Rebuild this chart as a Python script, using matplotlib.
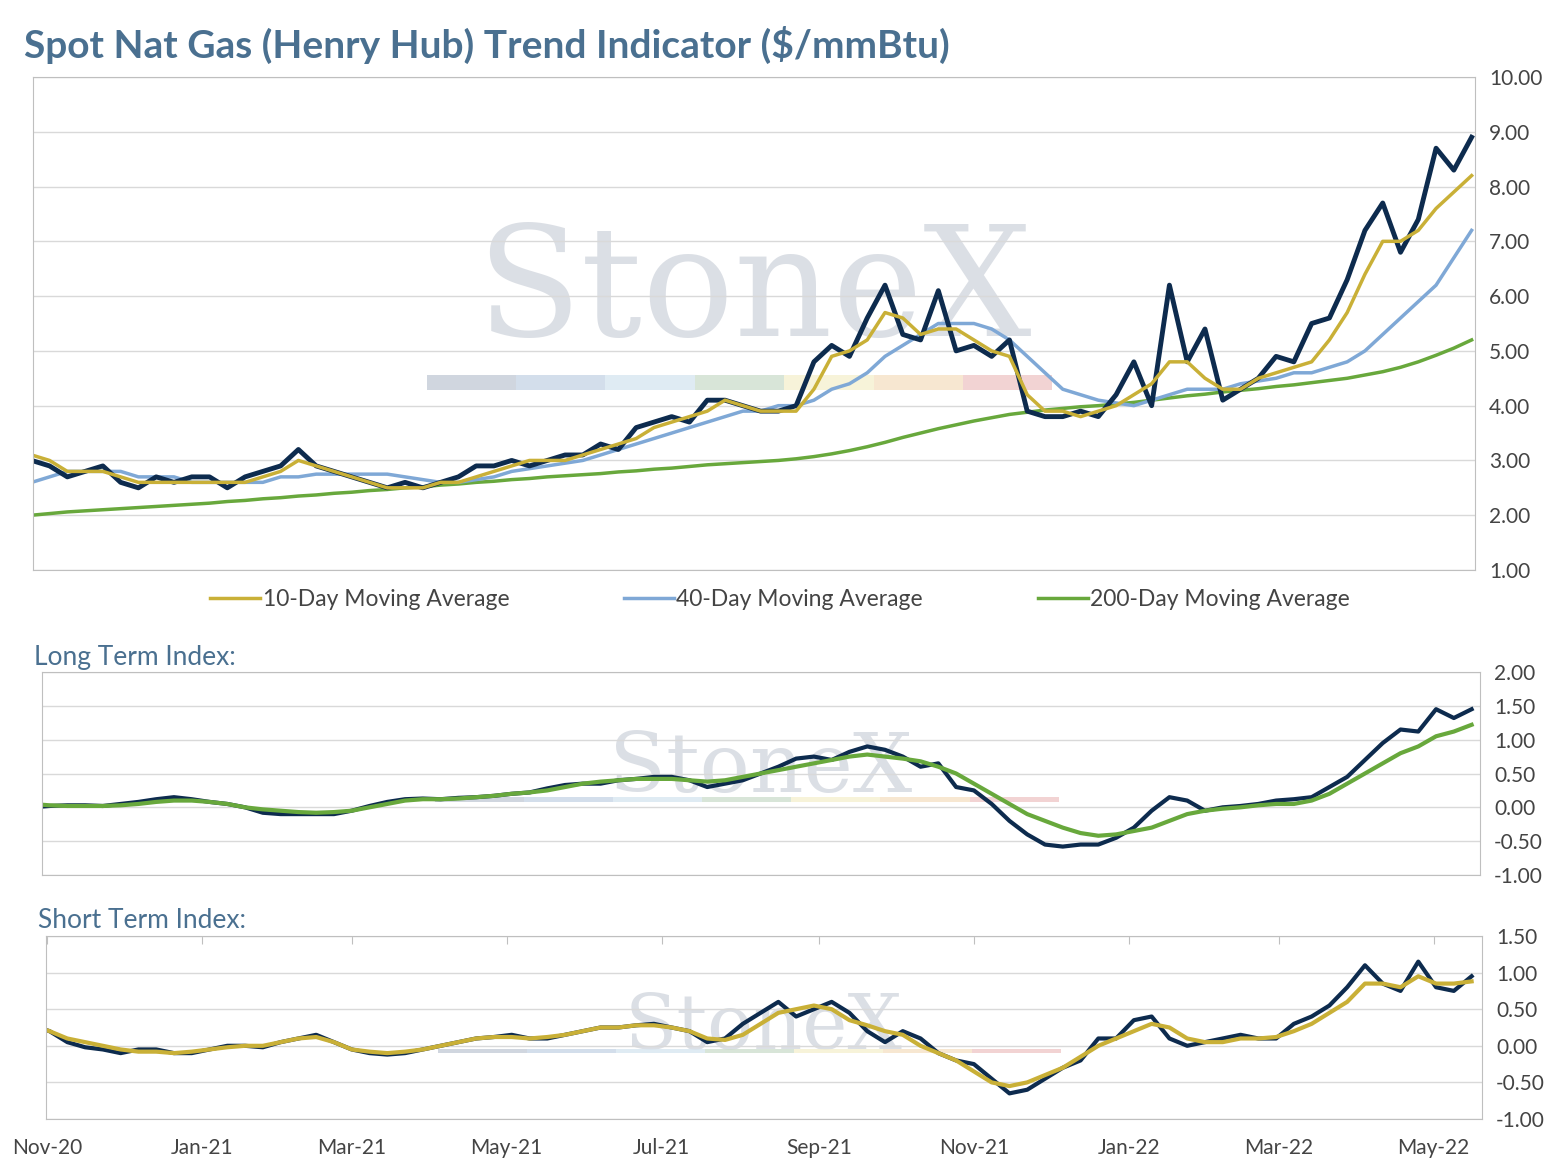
import numpy as np
import pandas as pd
import matplotlib
matplotlib.use("Agg")
import matplotlib.pyplot as plt
import matplotlib.dates as mdates
from matplotlib.patches import Rectangle

plt.rcParams['font.family'] = ['Lato', 'DejaVu Sans']

# weekly observations starting late Oct 2020
dates = pd.date_range('2020-10-26', periods=82, freq='7D')

spot = [3.0, 2.9, 2.7, 2.8, 2.9, 2.6, 2.5, 2.7, 2.6, 2.7, 2.7, 2.5,
        2.7, 2.8, 2.9, 3.2, 2.9, 2.8, 2.7, 2.6, 2.5, 2.6, 2.5, 2.6,
        2.7, 2.9, 2.9, 3.0, 2.9, 3.0, 3.1, 3.1, 3.3, 3.2, 3.6, 3.7,
        3.8, 3.7, 4.1, 4.1, 4.0, 3.9, 3.9, 4.0, 4.8, 5.1, 4.9, 5.6,
        6.2, 5.3, 5.2, 6.1, 5.0, 5.1, 4.9, 5.2, 3.9, 3.8, 3.8, 3.9,
        3.8, 4.2, 4.8, 4.0, 6.2, 4.8, 5.4, 4.1, 4.3, 4.5, 4.9, 4.8,
        5.5, 5.6, 6.3, 7.2, 7.7, 6.8, 7.4, 8.7, 8.3, 8.9]
ma10 = [3.1, 3.0, 2.8, 2.8, 2.8, 2.7, 2.6, 2.6, 2.6, 2.6, 2.6, 2.6,
        2.6, 2.7, 2.8, 3.0, 2.9, 2.8, 2.7, 2.6, 2.5, 2.5, 2.5, 2.6,
        2.6, 2.7, 2.8, 2.9, 3.0, 3.0, 3.0, 3.1, 3.2, 3.3, 3.4, 3.6,
        3.7, 3.8, 3.9, 4.1, 4.0, 3.9, 3.9, 3.9, 4.3, 4.9, 5.0, 5.2,
        5.7, 5.6, 5.3, 5.4, 5.4, 5.2, 5.0, 4.9, 4.2, 3.9, 3.9, 3.8,
        3.9, 4.0, 4.2, 4.4, 4.8, 4.8, 4.5, 4.3, 4.3, 4.5, 4.6, 4.7,
        4.8, 5.2, 5.7, 6.4, 7.0, 7.0, 7.2, 7.6, 7.9, 8.2]
ma40 = [2.6, 2.7, 2.8, 2.8, 2.8, 2.8, 2.7, 2.7, 2.7, 2.6, 2.6, 2.6,
        2.6, 2.6, 2.7, 2.7, 2.75, 2.75, 2.75, 2.75, 2.75, 2.7, 2.65, 2.6,
        2.6, 2.65, 2.7, 2.8, 2.85, 2.9, 2.95, 3.0, 3.1, 3.2, 3.3, 3.4,
        3.5, 3.6, 3.7, 3.8, 3.9, 3.9, 4.0, 4.0, 4.1, 4.3, 4.4, 4.6,
        4.9, 5.1, 5.3, 5.5, 5.5, 5.5, 5.4, 5.2, 4.9, 4.6, 4.3, 4.2,
        4.1, 4.05, 4.0, 4.1, 4.2, 4.3, 4.3, 4.3, 4.4, 4.45, 4.5, 4.6,
        4.6, 4.7, 4.8, 5.0, 5.3, 5.6, 5.9, 6.2, 6.7, 7.2]
ma200 = [2.0, 2.03, 2.06, 2.08, 2.1, 2.12, 2.14, 2.16, 2.18, 2.2, 2.22, 2.25,
         2.27, 2.3, 2.32, 2.35, 2.37, 2.4, 2.42, 2.45, 2.47, 2.5, 2.52, 2.55,
         2.57, 2.6, 2.62, 2.65, 2.67, 2.7, 2.72, 2.74, 2.76, 2.79, 2.81, 2.84,
         2.86, 2.89, 2.92, 2.94, 2.96, 2.98, 3.0, 3.03, 3.07, 3.12, 3.18, 3.25,
         3.33, 3.42, 3.5, 3.58, 3.65, 3.72, 3.78, 3.84, 3.88, 3.92, 3.95, 3.98,
         4.0, 4.03, 4.06, 4.1, 4.14, 4.18, 4.21, 4.25, 4.28, 4.31, 4.35, 4.38,
         4.42, 4.46, 4.5, 4.56, 4.62, 4.7, 4.8, 4.92, 5.05, 5.2]

lt_index = [0.0, 0.02, 0.03, 0.03, 0.02, 0.05, 0.08, 0.12, 0.15, 0.12, 0.08, 0.05,
            0.0, -0.08, -0.1, -0.1, -0.1, -0.1, -0.05, 0.02, 0.08, 0.12, 0.13, 0.12,
            0.14, 0.15, 0.17, 0.2, 0.22, 0.28, 0.33, 0.35, 0.35, 0.4, 0.42, 0.45,
            0.45, 0.4, 0.3, 0.35, 0.4, 0.5, 0.6, 0.72, 0.75, 0.7, 0.82, 0.9,
            0.85, 0.75, 0.6, 0.65, 0.3, 0.25, 0.05, -0.2, -0.4, -0.55, -0.58, -0.55,
            -0.55, -0.45, -0.3, -0.05, 0.15, 0.1, -0.05, 0.0, 0.02, 0.05, 0.1, 0.12,
            0.15, 0.3, 0.45, 0.7, 0.95, 1.15, 1.12, 1.45, 1.32, 1.45]
lt_signal = [0.05, 0.03, 0.02, 0.02, 0.02, 0.03, 0.05, 0.08, 0.1, 0.1, 0.08, 0.05,
             0.0, -0.03, -0.05, -0.07, -0.08, -0.07, -0.05, 0.0, 0.05, 0.1, 0.12, 0.12,
             0.13, 0.15, 0.17, 0.2, 0.22, 0.25, 0.3, 0.35, 0.38, 0.4, 0.42, 0.42,
             0.42, 0.4, 0.38, 0.4, 0.45, 0.5, 0.55, 0.6, 0.65, 0.7, 0.75, 0.78,
             0.75, 0.72, 0.68, 0.6, 0.5, 0.35, 0.2, 0.05, -0.1, -0.2, -0.3, -0.38,
             -0.42, -0.4, -0.35, -0.3, -0.2, -0.1, -0.05, -0.02, 0.0, 0.03, 0.05, 0.05,
             0.1, 0.2, 0.35, 0.5, 0.65, 0.8, 0.9, 1.05, 1.12, 1.22]

st_index = [0.28, 0.2, 0.05, -0.02, -0.05, -0.1, -0.05, -0.05, -0.1, -0.1, -0.05, 0.0,
            0.0, -0.02, 0.05, 0.1, 0.15, 0.05, -0.05, -0.1, -0.12, -0.1, -0.05, 0.0,
            0.05, 0.1, 0.12, 0.15, 0.1, 0.1, 0.15, 0.2, 0.25, 0.25, 0.28, 0.3,
            0.25, 0.2, 0.05, 0.1, 0.3, 0.45, 0.6, 0.4, 0.5, 0.6, 0.45, 0.2,
            0.05, 0.2, 0.1, -0.1, -0.2, -0.25, -0.45, -0.65, -0.6, -0.45, -0.3, -0.2,
            0.1, 0.1, 0.35, 0.4, 0.1, 0.0, 0.05, 0.1, 0.15, 0.1, 0.1, 0.3,
            0.4, 0.55, 0.8, 1.1, 0.85, 0.75, 1.15, 0.8, 0.75, 0.95]
st_signal = [0.28, 0.2, 0.1, 0.05, 0.0, -0.05, -0.08, -0.08, -0.1, -0.08, -0.05, -0.02,
             0.0, 0.0, 0.05, 0.1, 0.12, 0.05, -0.05, -0.08, -0.1, -0.08, -0.05, 0.0,
             0.05, 0.1, 0.12, 0.12, 0.1, 0.12, 0.15, 0.2, 0.25, 0.25, 0.28, 0.28,
             0.25, 0.2, 0.1, 0.08, 0.15, 0.3, 0.45, 0.5, 0.55, 0.5, 0.35, 0.28,
             0.2, 0.15, 0.0, -0.1, -0.2, -0.35, -0.5, -0.55, -0.5, -0.4, -0.3, -0.15,
             0.0, 0.1, 0.2, 0.3, 0.25, 0.1, 0.05, 0.05, 0.1, 0.1, 0.12, 0.2,
             0.3, 0.45, 0.6, 0.85, 0.85, 0.8, 0.95, 0.85, 0.85, 0.88]

NAVY = '#0d2b4e'
GOLD = '#c9b037'
BLUE = '#7fa8d6'
GREEN = '#68a83c'
TITLE = '#4a7090'
TXT = '#444444'

W, H = 1565, 1166
fig = plt.figure(figsize=(W / 100, H / 100), dpi=100)

def px_axes(l, t, r, b):
    return fig.add_axes([l / W, 1 - b / H, (r - l) / W, (b - t) / H])

# pixel -> date mapping (Nov-20 at x=47, ~77.3 px per month)
def px_date(px):
    return mdates.date2num(pd.Timestamp('2020-11-01')) + (px - 47) / 77.3 * 30.44

def watermark(ax, fs, y_text, y_bar, bar_h):
    ax.text(0.5, y_text, 'StoneX', transform=ax.transAxes, ha='center', va='center',
            fontsize=fs, family='DejaVu Serif', color='#c4cad4',
            alpha=0.6, zorder=0)
    cols = ['#c5ccd8', '#c9d6e6', '#d8e6f0', '#cfdfcf', '#f5f0d0', '#f6e2c6', '#efc8c8']
    x0, wbar = 0.273, 0.062
    for i, c in enumerate(cols):
        ax.add_patch(Rectangle((x0 + i * wbar, y_bar), wbar, bar_h, transform=ax.transAxes,
                               color=c, alpha=0.8, zorder=0, lw=0))

def style(ax, ymin, ymax, step, l, r):
    ax.set_xlim(px_date(l), px_date(r))
    ax.set_ylim(ymin, ymax)
    ax.set_yticks(np.arange(ymin, ymax + 1e-9, step))
    ax.yaxis.tick_right()
    ax.yaxis.set_major_formatter(matplotlib.ticker.FormatStrFormatter('%.2f'))
    ax.tick_params(axis='y', length=0, labelsize=15, labelcolor=TXT, pad=10)
    ax.grid(axis='y', color='#d9d9d9', lw=1)
    ax.set_axisbelow(True)
    for s in ax.spines.values():
        s.set_color('#bfbfbf')
    ax.xaxis.set_major_locator(mdates.MonthLocator(bymonth=[1, 3, 5, 7, 9, 11]))

# main panel
ax1 = px_axes(33, 77, 1475, 570)
style(ax1, 1, 10, 1, 33, 1475)
ax1.tick_params(axis='x', labelbottom=False, length=0)
watermark(ax1, 110, 0.56, 0.365, 0.03)
ax1.plot(dates[:len(ma200)], ma200, color=GREEN, lw=2.5, label='200-Day Moving Average')
ax1.plot(dates[:len(ma40)], ma40, color=BLUE, lw=2.5, label='40-Day Moving Average')
ax1.plot(dates[:len(spot)], spot, color=NAVY, lw=3.5)
ax1.plot(dates[:len(ma10)], ma10, color=GOLD, lw=2.5, label='10-Day Moving Average')
h, lab = ax1.get_legend_handles_labels()
order = [2, 1, 0]
fig.legend([h[i] for i in order], [lab[i] for i in order], loc='center',
           bbox_to_anchor=(780 / W, 1 - 600 / H), ncol=3, frameon=False,
           fontsize=16.5, labelcolor=TXT, columnspacing=5.0, handlelength=2.2,
           handletextpad=0.1)
fig.text(24 / W, 1 - 45 / H, 'Spot Nat Gas (Henry Hub) Trend Indicator ($/mmBtu)',
         fontsize=28, fontweight='bold', color=TITLE, va='center')

# long term panel
ax2 = px_axes(42, 672, 1480, 875)
style(ax2, -1, 2, 0.5, 42, 1480)
ax2.tick_params(axis='x', labelbottom=False, length=0)
watermark(ax2, 60, 0.52, 0.36, 0.025)
ax2.plot(dates[:len(lt_index)], lt_index, color=NAVY, lw=3)
ax2.plot(dates[:len(lt_signal)], lt_signal, color=GREEN, lw=3)
fig.text(34 / W, 1 - 657 / H, 'Long Term Index:', fontsize=19, color=TITLE, va='center')

# short term panel
ax3 = px_axes(46, 936, 1482, 1119)
style(ax3, -1, 1.5, 0.5, 46, 1482)
watermark(ax3, 55, 0.5, 0.36, 0.025)
ax3.plot(dates[:len(st_index)], st_index, color=NAVY, lw=3)
ax3.plot(dates[:len(st_signal)], st_signal, color=GOLD, lw=3)
ax3.xaxis.set_major_formatter(mdates.DateFormatter('%b-%y'))
ax3.tick_params(axis='x', top=True, bottom=False, direction='in', length=6,
                color='#bfbfbf', labelsize=15, labelcolor=TXT, pad=14)
fig.text(38 / W, 1 - 920 / H, 'Short Term Index:', fontsize=19, color=TITLE, va='center')

fig.savefig('out.png', dpi=100, facecolor='white')
